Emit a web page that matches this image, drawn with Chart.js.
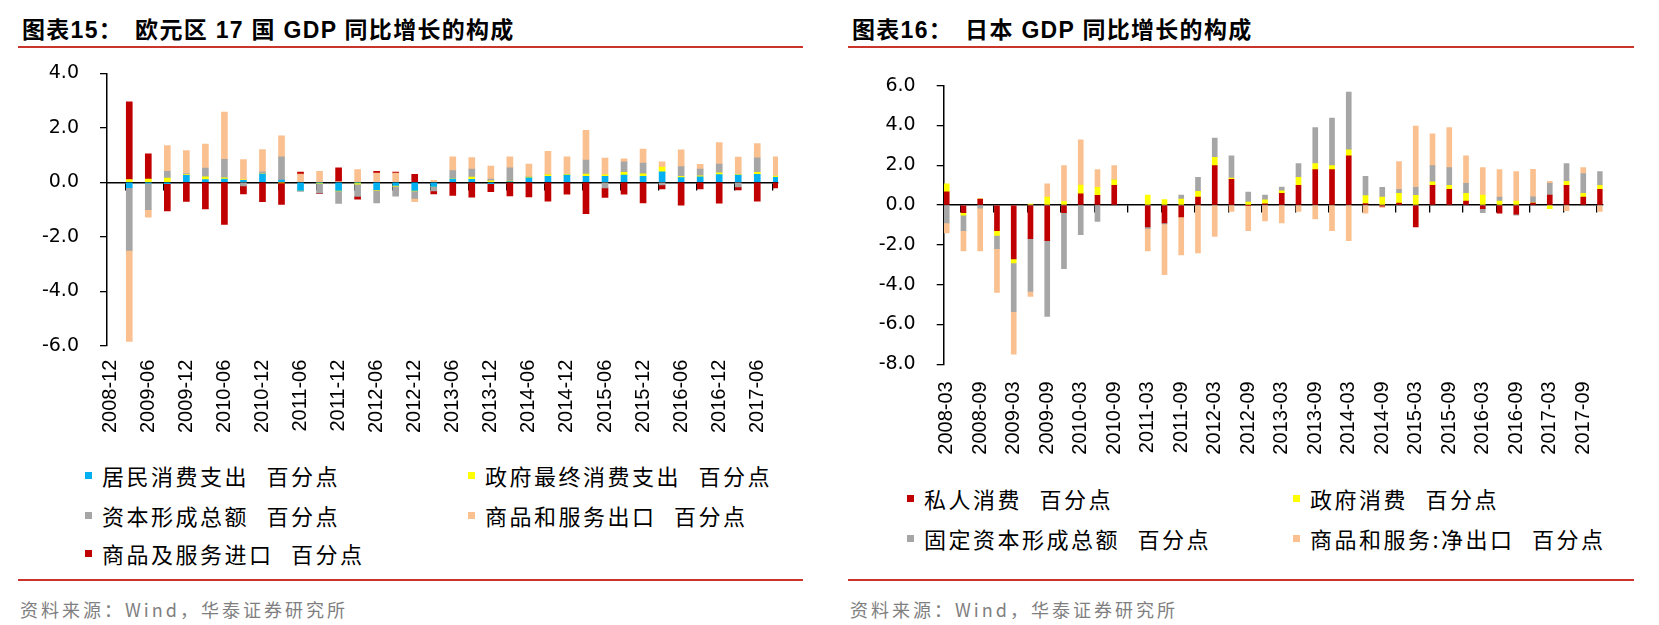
<!DOCTYPE html>
<html><head><meta charset="utf-8">
<script src="https://cdn.jsdelivr.net/npm/chart.js@4/dist/chart.umd.min.js"></script>
<style>
html,body{margin:0;padding:0;background:#fff}
body{width:1659px;height:625px;position:relative;overflow:hidden;font-family:"Liberation Sans","Noto Sans CJK SC",sans-serif}
.abs{position:absolute}
.title{font-weight:bold;font-size:23px;line-height:28px;letter-spacing:1.3px;color:#000;white-space:nowrap;font-family:"Liberation Sans","Noto Sans CJK SC",sans-serif}
.rule{height:2px;background:#C9352B}
.src{font-size:18px;line-height:24px;color:#7f7f7f;letter-spacing:3px;white-space:nowrap;font-family:"Noto Sans CJK SC","Liberation Sans",sans-serif}
.leg{font-size:22px;line-height:30px;letter-spacing:2.5px;word-spacing:10px;white-space:nowrap;color:#000;font-family:"Noto Sans CJK SC",sans-serif}
.sq{position:absolute;width:7px;height:7px}
canvas{position:absolute}
</style></head>
<body>
<div class="abs title" style="left:22px;top:16px">图表15：<span style="margin-left:12px">欧元区 17 国 GDP 同比增长的构成</span></div>
<div class="abs rule" style="left:18px;top:46px;width:785px"></div>
<div class="abs title" style="left:852px;top:16px">图表16：<span style="margin-left:12px">日本 GDP 同比增长的构成</span></div>
<div class="abs rule" style="left:848px;top:46px;width:786px"></div>
<div class="abs rule" style="left:18px;top:579px;width:785px"></div>
<div class="abs rule" style="left:848px;top:579px;width:786px"></div>
<div class="abs src" style="left:20px;top:597px">资料来源：Wind，华泰证券研究所</div>
<div class="abs src" style="left:850px;top:597px">资料来源：Wind，华泰证券研究所</div>
<canvas id="c1" width="830" height="410" style="left:0px;top:40px"></canvas>
<canvas id="c2" width="829" height="420" style="left:830px;top:50px"></canvas>
<div id="leg1"></div><div id="leg2"></div>
<script>
// ---------- Euro area 17 (chart 15) ----------
const EA_QUARTERS = ['2008-12','2009-03','2009-06','2009-09','2009-12','2010-03','2010-06','2010-09','2010-12',
  '2011-03','2011-06','2011-09','2011-12','2012-03','2012-06','2012-09','2012-12','2013-03','2013-06','2013-09',
  '2013-12','2014-03','2014-06','2014-09','2014-12','2015-03','2015-06','2015-09','2015-12','2016-03','2016-06',
  '2016-09','2016-12','2017-03','2017-06','2017-09'];
const EA_HOUSEHOLD = [null,-0.2,-0.03,-0.05,0.25,0.1,0.12,0.07,0.3,0.08,-0.3,-0.02,-0.3,-0.02,-0.27,-0.12,-0.3,-0.15,
  0.12,0.11,-0.05,0.02,0.16,0.22,0.26,0.22,0.22,0.26,0.22,0.38,0.17,0.2,0.28,0.26,0.29,0.18];
const EA_GOVERNMENT = [null,0.1,0.12,0.15,0.03,0.1,0.04,0.02,0.01,-0.02,0,-0.02,-0.02,-0.05,-0.02,-0.02,-0.02,0,
  0.01,0.08,0.05,0.02,0.03,0.06,0.03,0.08,0.05,0.1,0.09,0.18,0.05,0.04,0.07,0.02,0.07,0.05];
const EA_CAPITAL = [null,-2.3,-0.98,0.25,0.04,0.32,0.68,-0.13,0.07,0.85,-0.04,-0.36,-0.46,-0.45,-0.47,-0.37,-0.27,-0.17,
  0.3,0.29,0.07,0.49,0.01,0,0,0.51,-0.21,0.39,0.39,-0.1,0.36,0.24,0.32,-0.17,0.54,0];
const EA_EXPORTS = [null,-3.34,-0.27,0.95,0.84,0.88,1.74,0.74,0.82,0.77,0.3,0.4,0.02,0.47,0.34,0.34,-0.12,0.07,
  0.5,0.43,0.47,0.4,0.47,0.86,0.64,1.1,0.62,0.11,0.52,0.19,0.61,0.18,0.79,0.64,0.52,0.7];
const EA_IMPORTS = [null,2.85,0.92,-1.0,-0.7,-0.98,-1.55,-0.3,-0.71,-0.79,0.07,-0.02,0.51,-0.1,0.06,0.03,0.29,-0.11,
  -0.48,-0.55,-0.3,-0.5,-0.54,-0.69,-0.44,-1.15,-0.35,-0.44,-0.76,-0.14,-0.84,-0.24,-0.77,-0.11,-0.69,-0.21];
const EA_NAMES = ['居民消费支出 百分点','政府最终消费支出 百分点','资本形成总额 百分点','商品和服务出口 百分点','商品及服务进口 百分点'];
const EA_Y_TICKS = {min:-6, max:4, step:2};

// ---------- Japan (chart 16) ----------
const JP_QUARTERS = ['2008-03','2008-06','2008-09','2008-12','2009-03','2009-06','2009-09','2009-12','2010-03','2010-06',
  '2010-09','2010-12','2011-03','2011-06','2011-09','2011-12','2012-03','2012-06','2012-09','2012-12',
  '2013-03','2013-06','2013-09','2013-12','2014-03','2014-06','2014-09','2014-12','2015-03','2015-06',
  '2015-09','2015-12','2016-03','2016-06','2016-09','2016-12','2017-03','2017-06','2017-09','2017-12'];
const JP_PRIVATE = [0.67,-0.38,0.3,-1.29,-2.7,-1.69,-1.79,-0.38,0.57,0.49,0.99,null,-1.1,-0.9,-0.59,0.4,1.98,1.29,-0.02,0.07,
  0.59,0.99,1.78,1.78,2.48,0.08,-0.05,0.1,-1.1,0.99,0.79,0.2,-0.18,-0.4,-0.45,0.1,0.5,0.99,0.4,0.79];
const JP_GOVERNMENT = [0.4,-0.13,0.02,-0.23,-0.21,0.05,0.4,0.18,0.43,0.4,0.28,null,0.5,0.28,0.3,0.29,0.42,0.07,0.15,0.2,
  0.13,0.4,0.31,0.2,0.3,0.4,0.4,0.49,0.49,0.18,0.2,0.39,0.5,0.2,0.2,0.02,-0.18,0.2,0.19,0.2];
const JP_GFCF = [-0.9,-0.78,-0.15,-0.67,-2.45,-2.65,-3.8,-2.82,-1.49,-0.82,0,null,-0.07,-0.05,0.2,0.7,0.97,1.12,0.5,0.23,
  0.18,0.7,1.8,2.39,2.9,0.97,0.49,0.2,0.4,0.81,0.89,0.5,-0.2,0.2,-0.05,0.3,0.59,0.9,1.0,0.7];
const JP_NET_EXPORTS = [-0.5,-1.01,-2.15,-2.2,-2.13,-0.25,0.67,1.8,2.28,0.89,0.71,null,-1.13,-2.55,-1.91,-2.4,-1.57,-0.32,-1.27,-0.8,
  -0.9,-0.32,-0.7,-1.29,-1.79,-0.4,-0.07,1.4,3.08,1.6,2.01,1.39,1.39,1.38,1.49,1.38,0.1,-0.28,0.3,-0.32];
const JP_NAMES = ['私人消费 百分点','政府消费 百分点','固定资本形成总额 百分点','商品和服务:净出口 百分点'];
const JP_Y_TICKS = {min:-8, max:6, step:2};

const C_BLUE='#00B0F0', C_YELLOW='#FFFF00', C_GRAY='#A6A6A6', C_PEACH='#FAC090', C_RED='#C00000';

function evenTicks(n, shift){ const t=[]; for(let k=0;k<n;k+=2) t.push({value:k+shift}); return t; }

function build(canvasId, o){
  const datasets = o.series.map(s => ({
    label: s.name, backgroundColor: s.color, stack:'s', xAxisID:'x', yAxisID:'y',
    barThickness: o.barThickness, borderWidth:0,
    data: s.values.map((v,k)=> v===null ? null : {x:k, y:v}).filter(p=>p!==null)
  }));
  const n = o.labels.length;
  return new Chart(document.getElementById(canvasId), {
    type:'bar',
    data:{datasets},
    options:{
      responsive:false, animation:false, events:[],
      layout:{padding:{left:0, right:o.padRight, top:o.padTop, bottom:0}},
      plugins:{legend:{display:false}, tooltip:{enabled:false}},
      scales:{
        x:{type:'linear', position:'bottom', min:o.xmin, max:o.xmax, offset:false, bounds:'data',
          afterBuildTicks: s => { s.ticks = evenTicks(n, 0); },
          afterFit: s => { s.height = o.xAxisHeight; },
          grid:{display:false, drawTicks:false}, border:{display:false},
          ticks:{autoSkip:false, maxRotation:90, minRotation:90, padding:o.labelPad, color:'#000',
            font:{family:'Liberation Sans', size:20},
            callback: v => o.labels[Math.round(v)] ?? ''}},
        x2:{type:'linear', axis:'x', min:o.xmin, max:o.xmax, position:{y:0}, offset:false, bounds:'data',
          afterBuildTicks: s => { s.ticks = evenTicks(n, o.xmin); },
          grid:{drawOnChartArea:false, drawTicks:true, tickLength:7, color:'#000', lineWidth:1.3},
          border:{display:true, color:'#000', width:1.5},
          ticks:{display:false}},
        y:{type:'linear', stacked:true, min:o.yt.min, max:o.yt.max,
          afterFit: s => { s.width = o.yAxisWidth; },
          ticks:{stepSize:o.yt.step, padding:21, color:'#000', font:{family:'DejaVu Sans', size:19},
            callback: v => Number(v).toFixed(1)},
          grid:{drawOnChartArea:false, drawTicks:true, tickLength:7, color:'#000', lineWidth:1.3},
          border:{display:true, color:'#000', width:1.5}}
      }
    }
  });
}

const EA_SERIES = [
  {name:EA_NAMES[0], color:C_BLUE, values:EA_HOUSEHOLD},
  {name:EA_NAMES[1], color:C_YELLOW, values:EA_GOVERNMENT},
  {name:EA_NAMES[2], color:C_GRAY, values:EA_CAPITAL},
  {name:EA_NAMES[3], color:C_PEACH, values:EA_EXPORTS},
  {name:EA_NAMES[4], color:C_RED, values:EA_IMPORTS}];
const JP_SERIES = [
  {name:JP_NAMES[0], color:C_RED, values:JP_PRIVATE},
  {name:JP_NAMES[1], color:C_YELLOW, values:JP_GOVERNMENT},
  {name:JP_NAMES[2], color:C_GRAY, values:JP_GFCF},
  {name:JP_NAMES[3], color:C_PEACH, values:JP_NET_EXPORTS}];

build('c1', {series:EA_SERIES, labels:EA_QUARTERS, yt:EA_Y_TICKS, barThickness:6,
  xmin:-0.17, xmax:35.09, padRight:52, padTop:33.3, yAxisWidth:107, xAxisHeight:104.3, labelPad:14});
build('c2', {series:JP_SERIES, labels:JP_QUARTERS, yt:JP_Y_TICKS, barThickness:5,
  xmin:-0.18, xmax:39.16, padRight:56.3, padTop:35.7, yAxisWidth:113.7, xAxisHeight:105.7, labelPad:17});

// legends (HTML, built from the series)
function legend(containerId, series, slots){
  const box = document.getElementById(containerId);
  series.forEach((s,i)=>{
    const p = slots[i];
    const sq = document.createElement('div'); sq.className='sq';
    sq.style.left=p.sx+'px'; sq.style.top=(p.cy-3.5)+'px'; sq.style.background=s.color; box.appendChild(sq);
    const t = document.createElement('div'); t.className='abs leg';
    t.style.left=p.tx+'px'; t.style.top=(p.cy-15)+'px'; t.textContent=s.name; box.appendChild(t);
  });
}
legend('leg1', EA_SERIES, [
  {sx:85, tx:102, cy:475},{sx:468, tx:485, cy:475},
  {sx:85, tx:102, cy:515},{sx:468, tx:485, cy:515},
  {sx:85, tx:102, cy:553}]);
legend('leg2', JP_SERIES, [
  {sx:907, tx:924, cy:498},{sx:1293, tx:1310, cy:498},
  {sx:907, tx:924, cy:538},{sx:1293, tx:1310, cy:538}]);
</script>
</body></html>
